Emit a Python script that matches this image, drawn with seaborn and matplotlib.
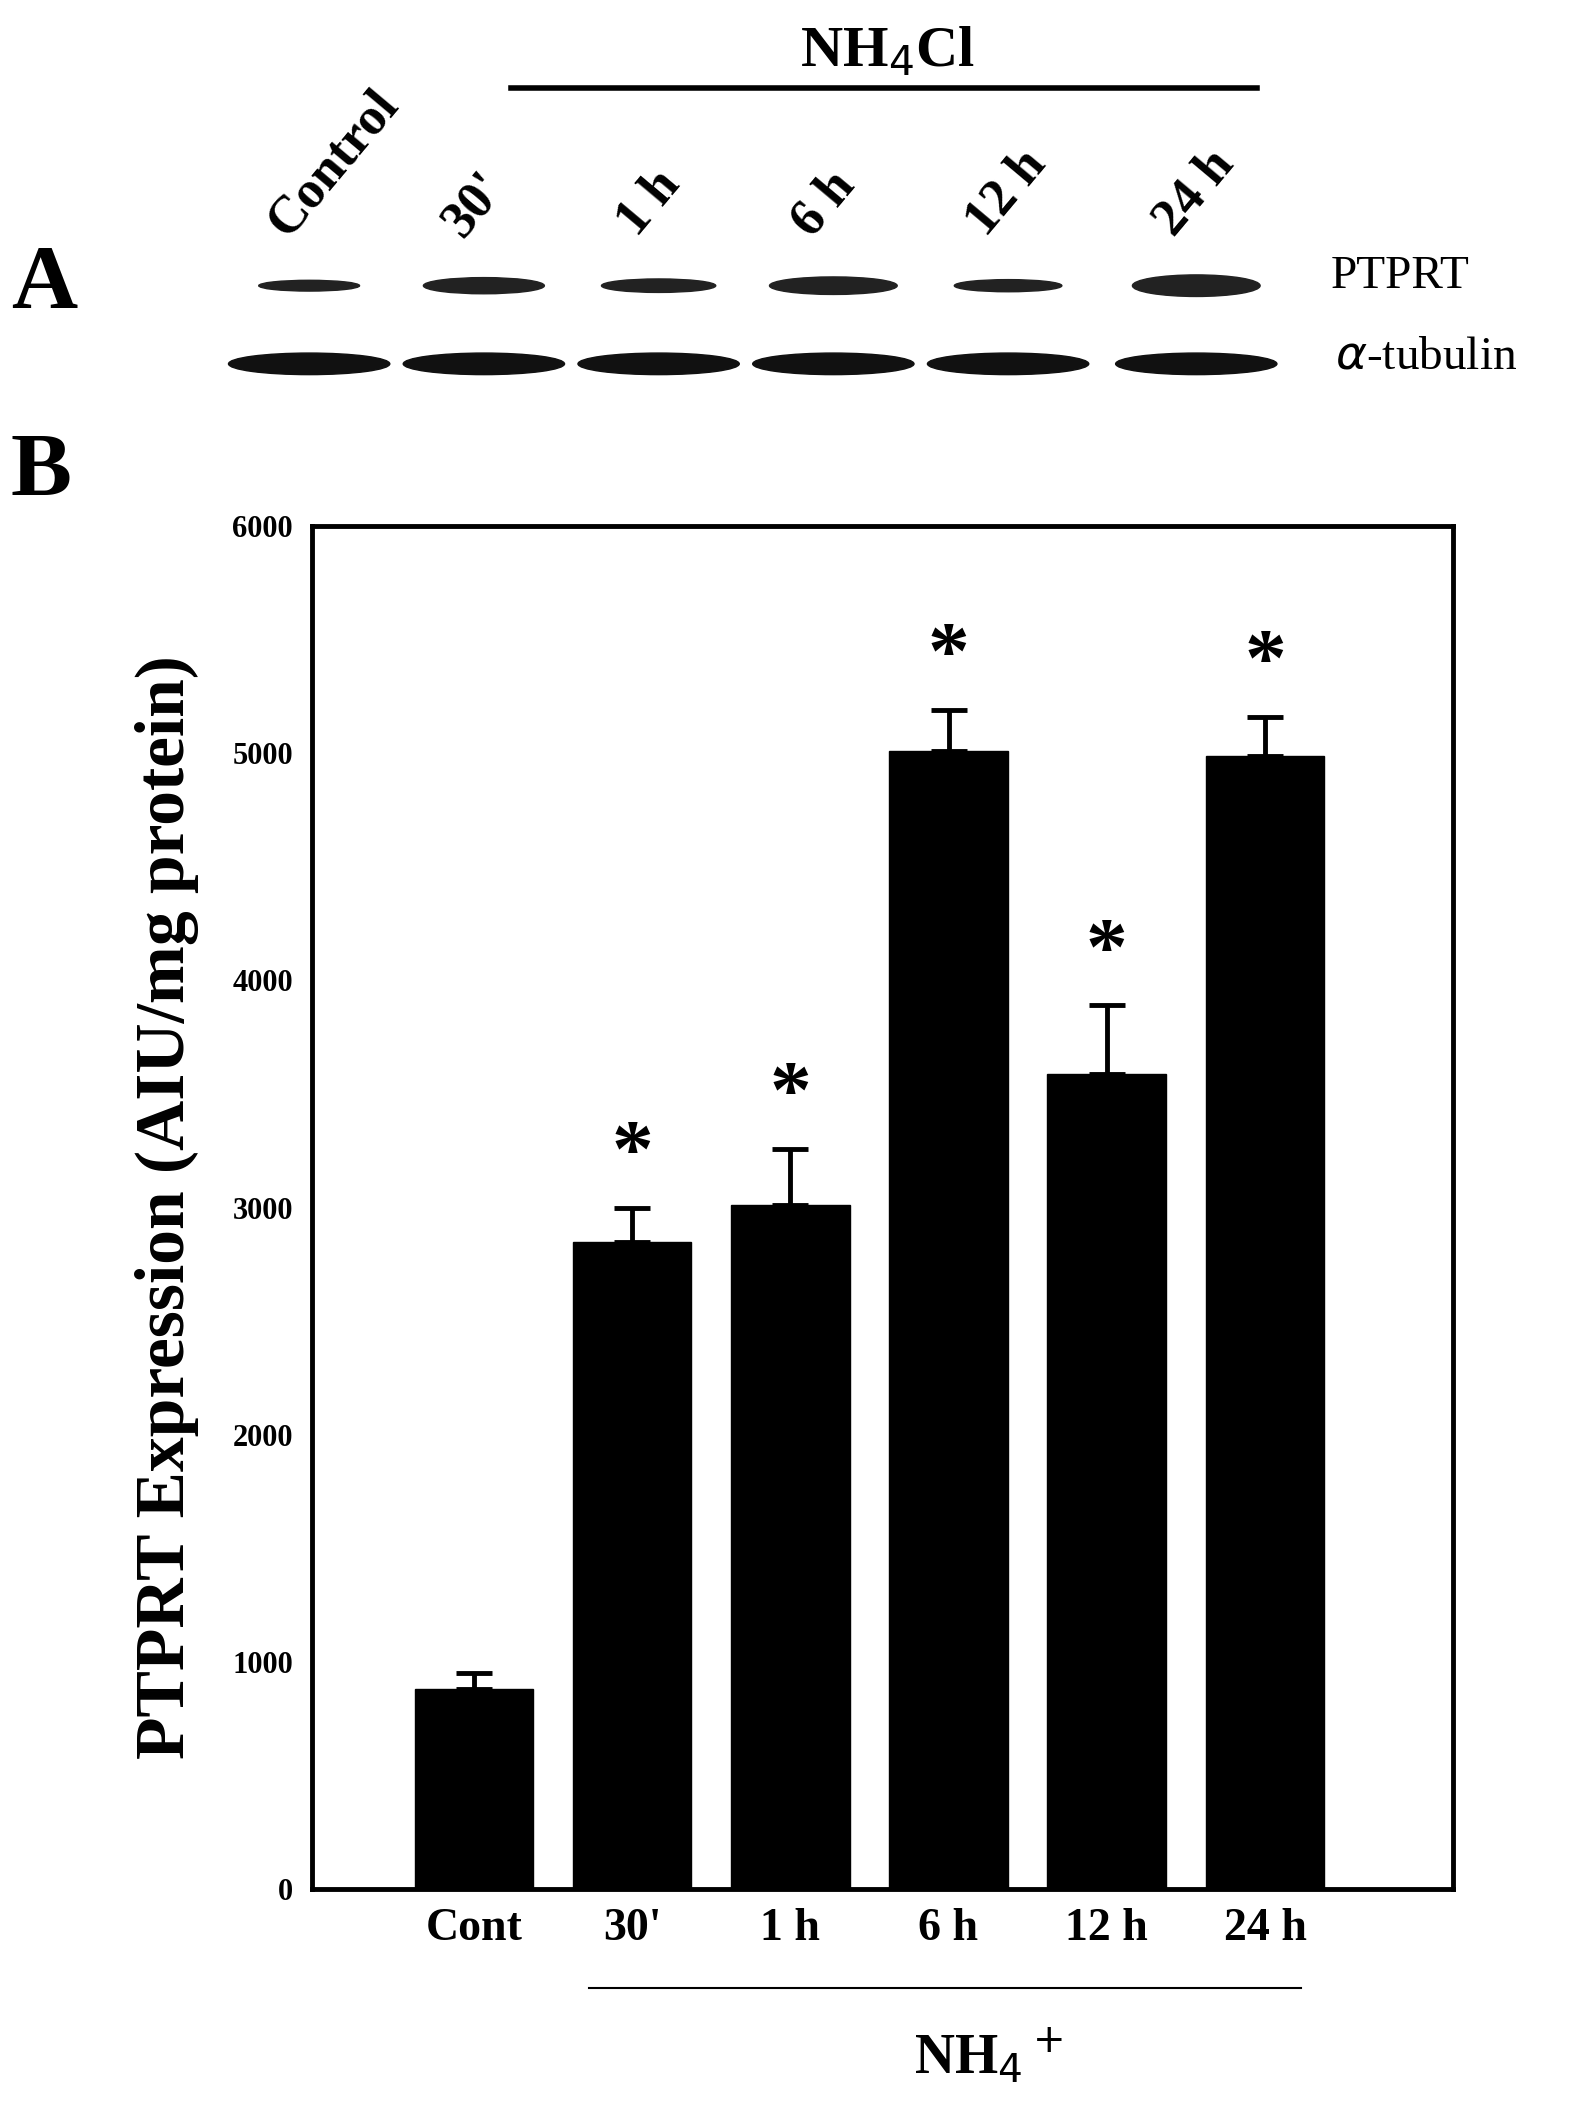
import matplotlib
matplotlib.use("Agg")
import matplotlib.pyplot as plt
import seaborn as sns
import pandas as pd
from matplotlib.patches import Ellipse

categories = ["Cont", "30'", "1 h", "6 h", "12 h", "24 h"]
values = [880, 2850, 3010, 5010, 3590, 4990]
errors = [70, 150, 250, 180, 300, 170]
significant = [False, True, True, True, True, True]
lane_labels = ["Control", "30'", "1 h", "6 h", "12 h", "24 h"]
yticks = [0, 1000, 2000, 3000, 4000, 5000, 6000]

serif = "Liberation Serif"
fig = plt.figure(figsize=(15.78, 21.13), dpi=100)

ov = fig.add_axes([0, 0, 1, 1])
ov.set_xlim(0, 1174); ov.set_ylim(1568, 0); ov.axis("off")

ax = fig.add_axes([0.198, 0.106, 0.723, 0.645])
df = pd.DataFrame({"cat": categories, "val": values})
sns.barplot(data=df, x="cat", y="val", color="black", width=0.75, ax=ax, saturation=1)
for p in ax.patches:
    p.set_facecolor("black"); p.set_edgecolor("black")
ax.errorbar(range(len(values)), values, yerr=[[0]*len(errors), errors], fmt="none",
            ecolor="black", elinewidth=3.5, capsize=13, capthick=3.5)
for i, (v, e, s) in enumerate(zip(values, errors, significant)):
    if s:
        ax.text(i, v + e + 60, "*", ha="center", va="bottom", fontsize=60,
                fontweight="bold", family=serif)
ax.set_xlim(-1.02, 6.19)
ax.set_ylim(0, 6000)
ax.set_yticks(yticks)
ax.set_yticklabels([str(t) for t in yticks], fontsize=22, fontweight="bold", family=serif)
ax.set_xticks(range(len(categories)))
ax.set_xticklabels(categories, fontsize=33, fontweight="bold", family=serif)
ax.tick_params(axis="x", length=0, pad=14)
ax.tick_params(axis="y", length=0, pad=14)
ax.set_xlabel("")
ax.set_ylabel("PTPRT Expression (AIU/mg protein)", fontsize=50, fontweight="bold",
              family=serif, labelpad=24)
for sp in ax.spines.values():
    sp.set_linewidth(3.5); sp.set_color("black")

ov.plot([438, 968], [1475, 1475], color="black", lw=1.5)
ov.text(735, 1525, r"NH$_4$$^+$", ha="center", va="center", fontsize=40,
        fontweight="bold", family=serif)

ov.text(8, 212, "A", fontsize=66, fontweight="bold", family=serif, va="center")
ov.text(8, 352, "B", fontsize=66, fontweight="bold", family=serif, va="center")
ov.text(660, 38, r"NH$_4$Cl", fontsize=42, fontweight="bold", family=serif,
        ha="center", va="center")
ov.plot([380, 935], [65, 65], color="black", lw=4)
lane_x = [230, 360, 490, 620, 750, 890]
for x, lab in zip(lane_x, lane_labels):
    ov.text(x - 10, 182, lab, rotation=50, fontsize=38, fontweight="bold",
            family=serif, ha="left", va="bottom", rotation_mode="anchor")
ptprt_w = [75, 90, 85, 95, 80, 95]
ptprt_h = [8, 12, 10, 13, 9, 16]
for x, w, h in zip(lane_x, ptprt_w, ptprt_h):
    ov.add_patch(Ellipse((x, 212), w, h, color="#222222"))
for x in lane_x:
    ov.add_patch(Ellipse((x, 270), 120, 16, color="#111111"))
ov.text(990, 205, "PTPRT", fontsize=34, family=serif, va="center")
ov.text(993, 265, r"$\alpha$-tubulin", fontsize=34, family=serif, va="center")

fig.savefig("out.png", dpi=100, facecolor="white")
